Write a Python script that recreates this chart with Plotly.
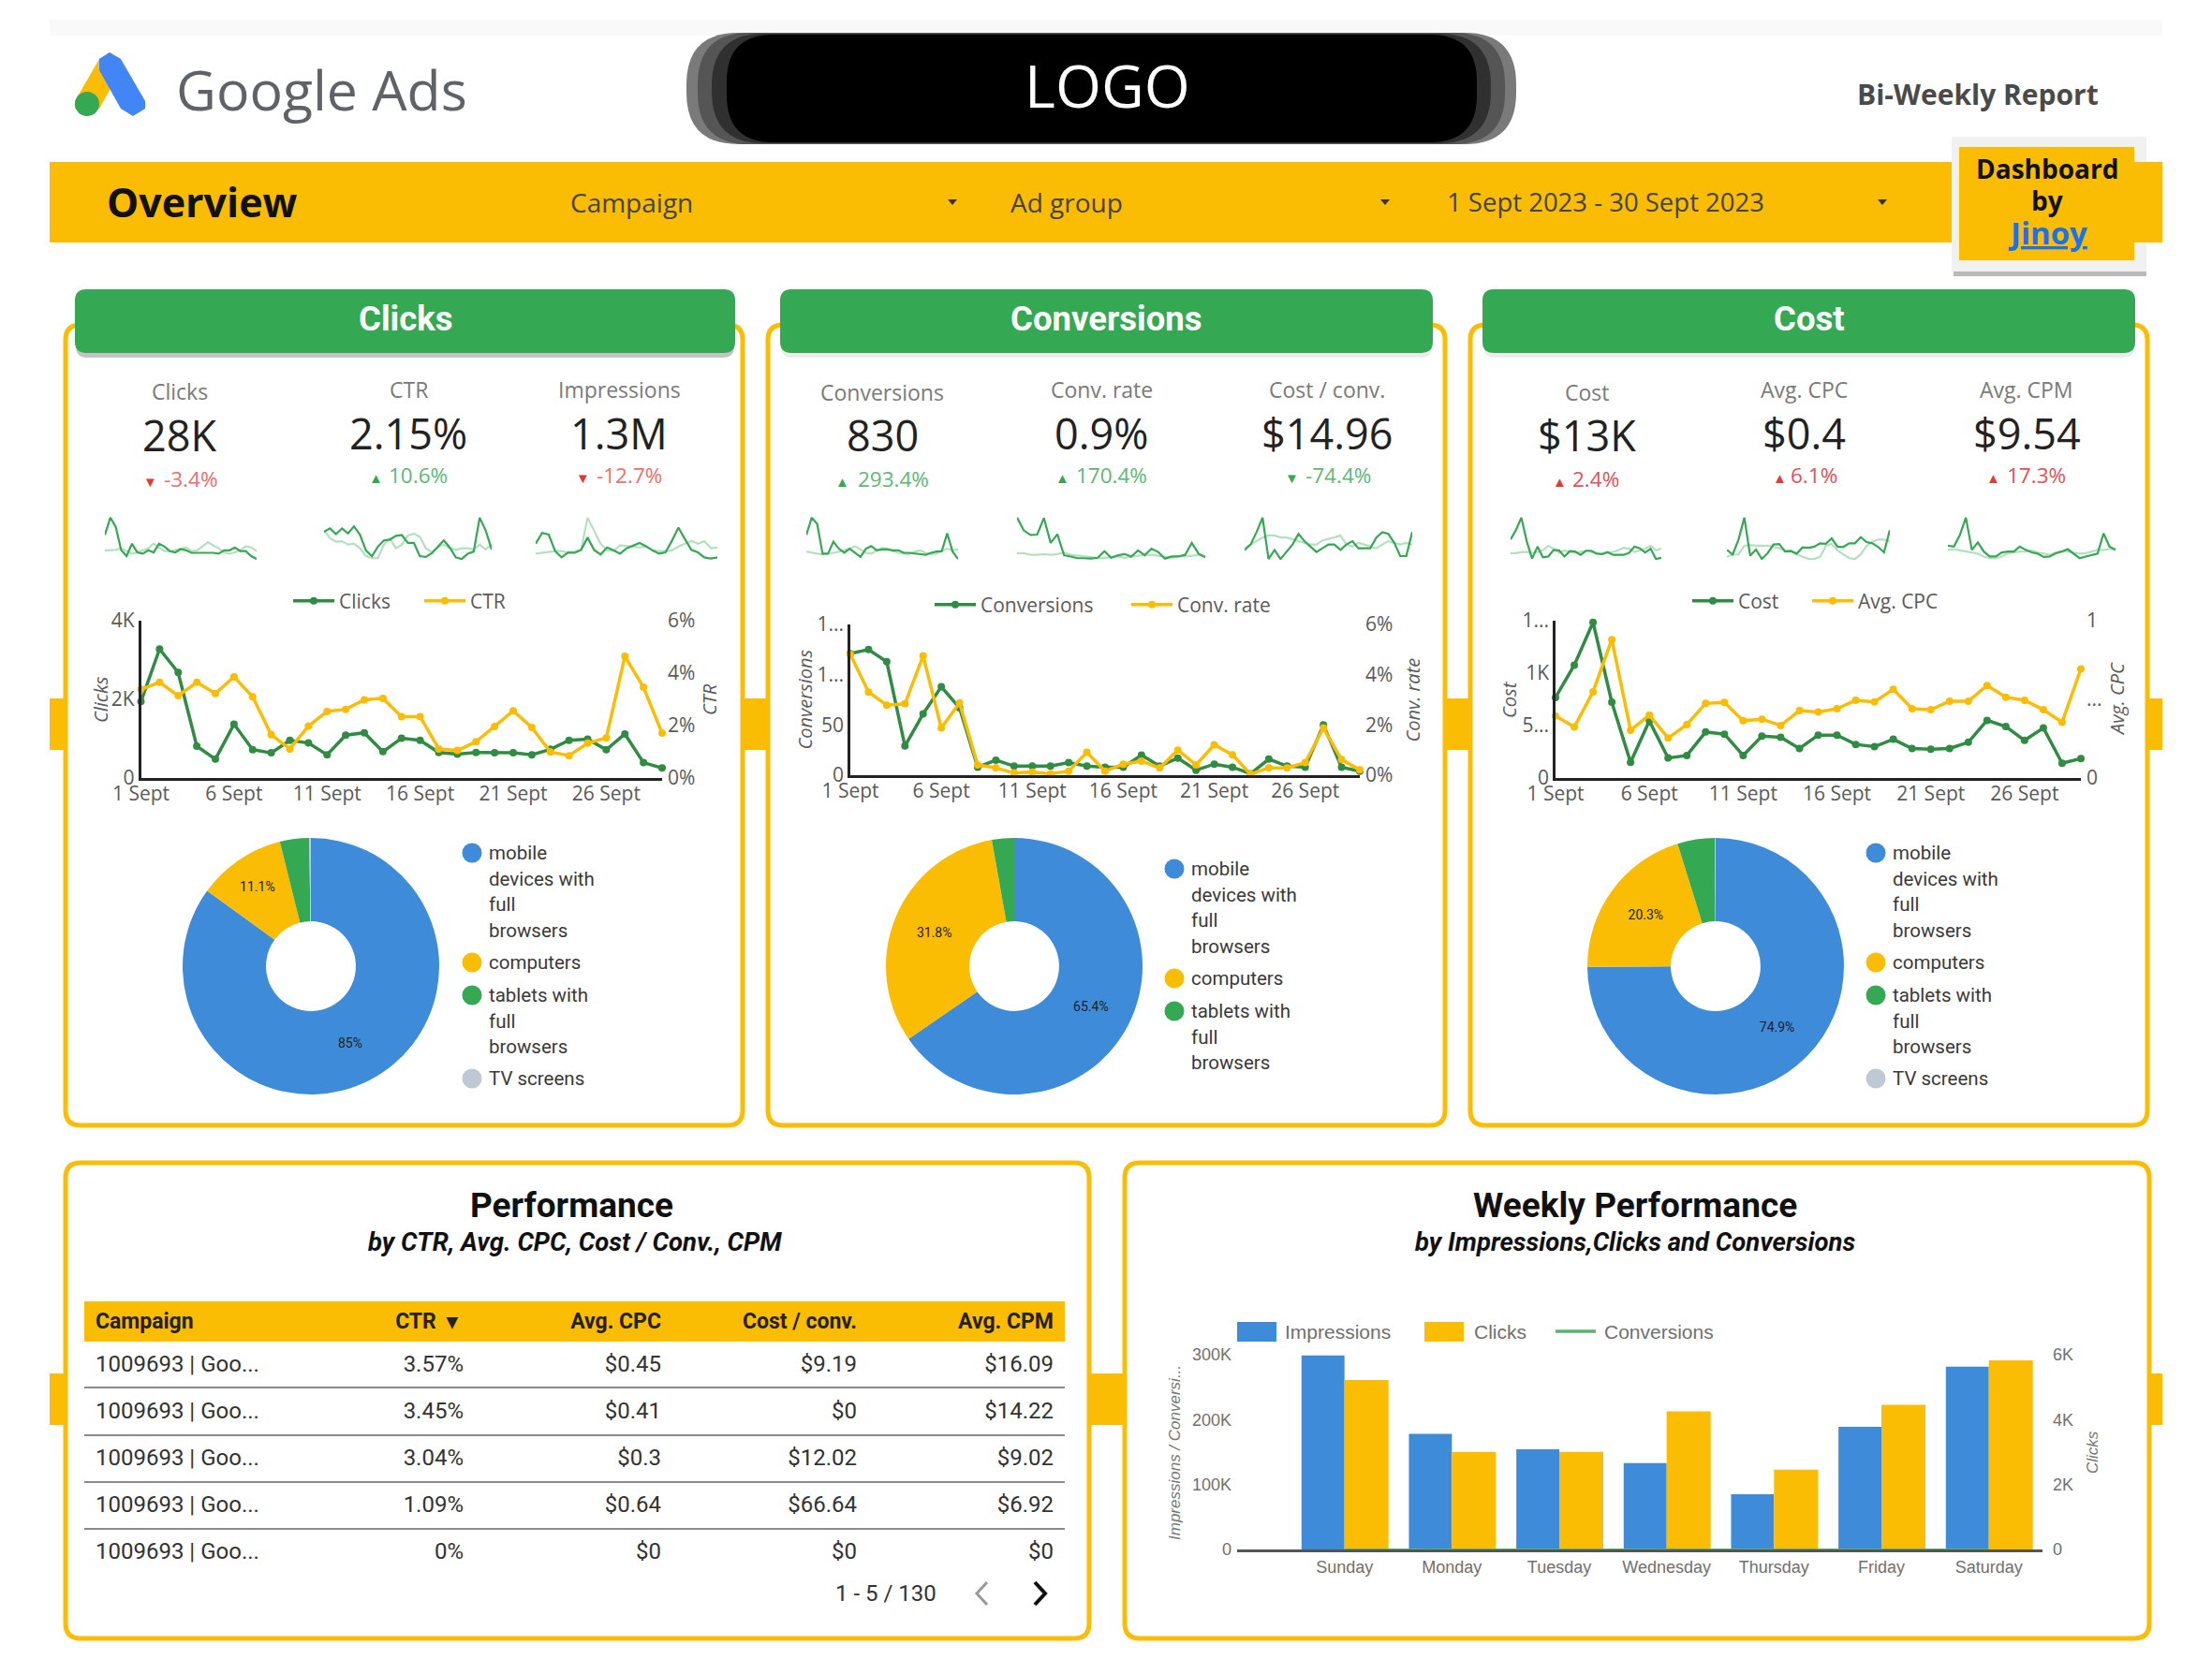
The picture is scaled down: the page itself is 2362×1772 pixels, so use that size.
import plotly.graph_objects as go

W = 2362
H = 1772

YELLOW = "#fbbc04"
GREEN = "#34a853"
DARK_GREEN = "#2f8c42"
LIGHT_GREEN = "#b4e0c0"
BLUE = "#3d8bd9"
TV_GREY = "#bfc9d6"
SANS = "Open Sans"
ROBOTO = "Roboto"
ARIAL = "Liberation Sans"

days = [f"{d} Sept" for d in range(1, 30)]
day_ticks = ["1 Sept", "6 Sept", "11 Sept", "16 Sept", "21 Sept", "26 Sept"]

clicks = [1944, 3280, 2685, 810, 480, 1370, 720, 640, 956, 890, 590, 1090, 1150, 670, 1010,
          960, 650, 610, 650, 640, 640, 590, 730, 960, 990, 720, 1120, 390, 255]
ctr = [3.38, 3.65, 3.14, 3.65, 3.22, 3.86, 3.10, 1.65, 1.11, 1.98, 2.54, 2.62, 2.98, 3.04, 2.34,
       2.34, 1.11, 1.05, 1.38, 1.96, 2.56, 1.93, 0.99, 0.85, 1.33, 1.53, 4.64, 3.46, 1.71]
conversions = [121, 125, 113, 29, 61, 88, 67, 8, 15, 9, 9, 9, 12.5, 9, 8,
               8, 20, 9, 17, 5, 11, 8, 1.5, 16, 9, 8, 50, 8, 4]
conv_rate = [4.81, 3.31, 2.79, 2.84, 4.75, 1.88, 2.88, 0.41, 0.29, 0.09, 0.12, 0.06, 0.16, 0.91, 0.16,
             0.44, 0.56, 0.29, 1.0, 0.41, 1.21, 0.81, 0.04, 0.29, 0.29, 0.5, 1.88, 0.62, 0.21]
cost = [768, 1076, 1485, 723, 149, 544, 191, 215, 439, 418, 215, 400, 388, 281, 409,
        409, 320, 299, 370, 281, 275, 281, 341, 550, 490, 359, 478, 140, 185]
avg_cpc = [0.394, 0.324, 0.548, 0.88, 0.304, 0.40, 0.254, 0.34, 0.474, 0.48, 0.364, 0.374, 0.334, 0.428, 0.42,
           0.44, 0.494, 0.484, 0.564, 0.44, 0.434, 0.488, 0.488, 0.588, 0.514, 0.494, 0.434, 0.354, 0.694]

# sparklines, read as height inside each little plot (0 bottom, 100 top)
spark_clicks = [58, 100, 78, 22, 7, 37, 16, 13, 21, 16, 37, 30, 19, 16, 24, 21, 15, 15, 15, 15, 15, 13, 21, 21, 28, 19, 19, 7, 0]
spark_clicks_prev = [21, 21, 22, 26, 19, 13, 16, 21, 26, 37, 28, 19, 19, 22, 26, 28, 19, 21, 30, 41, 33, 26, 16, 13, 16, 21, 31, 28, 19]
spark_ctr = [66, 74, 60, 74, 62, 79, 59, 21, 7, 30, 45, 47, 56, 58, 39, 39, 7, 5, 14, 29, 45, 28, 4, 0, 13, 18, 100, 69, 23]
spark_ctr_prev = [70, 50, 42, 43, 35, 37, 26, 7, 2, 2, 35, 50, 26, 35, 57, 61, 54, 26, 17, 28, 35, 26, 22, 26, 26, 23, 35, 23, 35]
spark_impr = [37, 63, 59, 19, 4, 16, 15, 22, 52, 22, 11, 28, 21, 13, 26, 33, 39, 31, 21, 13, 16, 44, 76, 48, 22, 16, 4, 1, 4]
spark_impr_prev = [13, 15, 16, 19, 19, 15, 19, 22, 100, 67, 37, 21, 19, 33, 31, 30, 28, 30, 21, 19, 19, 21, 30, 37, 44, 37, 43, 26, 28]
spark_conv = [58, 100, 85, 13, 13, 42, 25, 15, 25, 15, 5, 25, 31, 21, 23, 23, 21, 21, 15, 15, 13, 12, 10, 15, 18, 19, 62, 18, 0]
spark_conv_prev = [18, 15, 13, 12, 13, 15, 18, 21, 25, 31, 23, 15, 13, 21, 27, 25, 19, 15, 13, 12, 18, 21, 15, 12, 13, 19, 25, 21, 23]
spark_rate = [100, 69, 58, 59, 99, 39, 60, 9, 6, 2, 2, 1, 3, 19, 3, 9, 12, 6, 21, 9, 25, 17, 1, 6, 6, 10, 39, 13, 4]
spark_rate_prev = [14, 14, 10, 10, 12, 10, 12, 16, 10, 8, 6, 5, 3, 3, 4, 6, 3, 6, 8, 10, 10, 8, 6, 3, 8, 6, 8, 10, 6]
spark_cpconv = [22, 35, 65, 100, 0, 22, 0, 17, 35, 61, 43, 30, 17, 26, 35, 35, 22, 35, 43, 26, 26, 26, 52, 65, 61, 39, 7, 7, 65]
spark_cpconv_prev = [26, 35, 43, 52, 57, 57, 52, 52, 48, 43, 39, 35, 35, 45, 48, 52, 57, 35, 30, 39, 35, 30, 26, 35, 43, 39, 35, 39, 35]
spark_cost = [47, 70, 100, 43, 1, 30, 4, 6, 22, 21, 6, 19, 18, 10, 20, 20, 13, 12, 17, 10, 10, 10, 15, 30, 26, 16, 25, 0, 3]
spark_cost_prev = [14, 14, 17, 17, 15, 17, 21, 32, 25, 15, 21, 17, 15, 17, 20, 17, 14, 12, 15, 17, 21, 27, 25, 17, 21, 25, 32, 21, 25]
spark_cpc = [22, 11, 47, 100, 8, 23, 0, 14, 35, 36, 18, 19, 13, 28, 27, 30, 38, 37, 50, 30, 29, 38, 38, 53, 41, 38, 29, 16, 70]
spark_cpc_prev = [5, 11, 11, 32, 34, 32, 32, 32, 29, 26, 21, 21, 11, 5, 0, 0, 5, 32, 37, 21, 11, 2, 0, 11, 32, 42, 47, 47, 42]
spark_cpm = [32, 30, 58, 100, 22, 40, 18, 6, 6, 16, 18, 18, 30, 22, 16, 13, 5, 6, 14, 18, 24, 13, 2, 6, 10, 13, 62, 30, 22]
spark_cpm_prev = [22, 24, 21, 18, 16, 13, 6, 2, 2, 6, 14, 16, 18, 18, 21, 16, 13, 10, 16, 18, 18, 16, 13, 14, 18, 22, 22, 24, 24]

device_colors = [BLUE, YELLOW, GREEN, TV_GREY]
clicks_devices = [85, 11.1, 3.7, 0.2]
clicks_device_text = ["85%", "11.1%", "", ""]
conv_devices = [65.4, 31.8, 2.8]
conv_device_text = ["65.4%", "31.8%", ""]
cost_devices = [74.9, 20.3, 4.7, 0.1]
cost_device_text = ["74.9%", "20.3%", "", ""]

table_header = ["Campaign", "CTR  ▾&nbsp;", "Avg. CPC", "Cost / conv.", "Avg. CPM"]
table_campaign = ["1009693 | Goo..."] * 5
table_ctr = ["3.57%", "3.45%", "3.04%", "1.09%", "0%"]
table_cpc = ["$0.45", "$0.41", "$0.3", "$0.64", "$0"]
table_cpconv = ["$9.19", "$0", "$12.02", "$66.64", "$0"]
table_cpm = ["$16.09", "$14.22", "$9.02", "$6.92", "$0"]

weekdays = ["Sunday", "Monday", "Tuesday", "Wednesday", "Thursday", "Friday", "Saturday"]
week_impressions = [299000, 178000, 154500, 133000, 85000, 189000, 281500]
week_clicks = [5220, 3010, 3010, 4255, 2460, 4455, 5830]
week_conversions = [120, 140, 130, 110, 90, 120, 120]


def X(px):
    return px / W


def Y(py):
    return 1 - py / H


shapes = []
annotations = []
layout_axes = {}


def rect(x0, y0, x1, y1, fill, line=None, width=0):
    shapes.append(dict(type="rect", xref="paper", yref="paper", x0=X(x0), x1=X(x1), y0=Y(y0), y1=Y(y1),
                       fillcolor=fill, line=dict(color=line or fill, width=width), layer="below"))


def rounded(x0, y0, x1, y1, r, fill=None, line=None, width=0, layer="below"):
    p = (f"M {X(x0 + r)} {Y(y0)} L {X(x1 - r)} {Y(y0)} Q {X(x1)} {Y(y0)} {X(x1)} {Y(y0 + r)} "
         f"L {X(x1)} {Y(y1 - r)} Q {X(x1)} {Y(y1)} {X(x1 - r)} {Y(y1)} "
         f"L {X(x0 + r)} {Y(y1)} Q {X(x0)} {Y(y1)} {X(x0)} {Y(y1 - r)} "
         f"L {X(x0)} {Y(y0 + r)} Q {X(x0)} {Y(y0)} {X(x0 + r)} {Y(y0)} Z")
    shapes.append(dict(type="path", xref="paper", yref="paper", path=p, fillcolor=fill or "rgba(0,0,0,0)",
                       line=dict(color=line or "rgba(0,0,0,0)", width=width), layer=layer))


def poly(points, fill=None, line=None, width=0, close=True, layer="below"):
    p = "M " + " L ".join(f"{X(a)} {Y(b)}" for a, b in points) + (" Z" if close else "")
    shapes.append(dict(type="path", xref="paper", yref="paper", path=p, fillcolor=fill or "rgba(0,0,0,0)",
                       line=dict(color=line or "rgba(0,0,0,0)", width=width), layer=layer))


def circle(cx, cy, r, fill, layer="below"):
    shapes.append(dict(type="circle", xref="paper", yref="paper", x0=X(cx - r), x1=X(cx + r),
                       y0=Y(cy + r), y1=Y(cy - r), fillcolor=fill, line=dict(width=0), layer=layer))


def label(text, x, y, size, color="#333333", font=SANS, anchor="center", angle=0):
    annotations.append(dict(text=text, xref="paper", yref="paper", x=X(x), y=Y(y), showarrow=False,
                            xanchor=anchor, yanchor="middle", textangle=angle,
                            font=dict(family=font, size=size, color=color)))


# header
rect(53, 21, 2309, 38, "#f9f9f9")
rect(53, 173, 2309, 259, YELLOW)
poly([(117, 56), (106, 63), (80, 108), (80, 116), (93, 124), (106, 116), (129, 75)], fill=YELLOW)
circle(93, 111, 13, GREEN)
poly([(106, 75), (129, 116), (142, 124), (155, 116), (155, 108), (129, 63), (117, 56), (106, 63)], fill="#4285f4")
label("Google Ads", 186, 95, 59, "#5f6368", anchor="left")

rounded(733, 35, 1619, 154, 55, fill="#7a7a7a")
rounded(745, 35, 1607, 154, 55, fill="#555555")
rounded(760, 36, 1592, 153, 55, fill="#303030")
rounded(776, 37, 1577, 152, 50, fill="#000000")
label("LOGO", 1182, 91, 63, "#ffffff")
label("<b>Bi-Weekly Report</b>", 2112, 100, 30, "#4a4a4a")

label("<b>Overview</b>", 112, 216, 43, "#111111", anchor="left")
label("Campaign", 607, 216, 28, "#444444", anchor="left")
label("Ad group", 1077, 216, 28, "#444444", anchor="left")
label("1 Sept 2023 - 30 Sept 2023", 1543, 216, 27.5, "#444444", anchor="left")
for ax in [1017, 1479, 2010]:
    poly([(ax - 5, 213), (ax + 5, 213), (ax, 219)], fill="#333333")

rect(2086, 148, 2292, 295, "#b9b9b9")
rect(2084, 146, 2292, 290, "#f1f1f1")
rect(2279, 173, 2309, 259, YELLOW)
rect(2092, 157, 2279, 278, YELLOW)
label("<b>Dashboard</b>", 2186, 180, 28, "#111111")
label("<b>by</b>", 2186, 214, 28, "#111111")
label("<b><u>Jinoy</u></b>", 2186, 249, 33, "#1a73e8")

# yellow frames and the tabs joining them
for y0, y1, spans in [(746, 801, [(53, 68), (795, 818), (1545, 1568), (2295, 2309)]),
                      (1467, 1522, [(53, 68), (1163, 1199), (2295, 2309)])]:
    for a, b in spans:
        rect(a, y0, b, y1, YELLOW)
panel_spans = [(68, 795), (818, 1545), (1568, 2295)]
for a, b in panel_spans:
    rounded(a + 2, 347, b - 2, 1202, 16, fill="#ffffff", line=YELLOW, width=5)
rounded(70, 1242, 1163, 1750, 16, fill="#ffffff", line=YELLOW, width=5)
rounded(1201, 1242, 2295, 1750, 16, fill="#ffffff", line=YELLOW, width=5)

header_boxes = [(80, 785, "Clicks"), (833, 1530, "Conversions"), (1583, 2280, "Cost")]
for a, b, name in header_boxes:
    rounded(a + 1, 313, b - 1, 382, 12, fill="#c4c4c4" if name == "Clicks" else "#ececec")
    rounded(a, 309, b, 377, 12, fill=GREEN)
    label(f"<b>{name}</b>", (a + b) / 2, 341, 36.5, "#ffffff", font=ROBOTO)

# scorecards: name, x, name y, value, delta text, delta x, arrow, arrow x, y, colours
RED_TEXT = "#f26d6d"
RED_MARK = "#e53935"
GREEN_TEXT = "#5cb877"
COST_RED = "#e2505a"
cards = [
    ("Clicks", 192, 418, "28K", "-3.4%", 203, "▼", 160, 512, RED_TEXT, RED_MARK),
    ("CTR", 436, 416, "2.15%", "10.6%", 446, "▲", 401, 508, GREEN_TEXT, GREEN),
    ("Impressions", 661, 416, "1.3M", "-12.7%", 672, "▼", 622, 508, RED_TEXT, RED_MARK),
    ("Conversions", 942, 419, "830", "293.4%", 954, "▲", 899, 512, GREEN_TEXT, GREEN),
    ("Conv. rate", 1176, 416, "0.9%", "170.4%", 1187, "▲", 1134, 508, GREEN_TEXT, GREEN),
    ("Cost / conv.", 1417, 416, "$14.96", "-74.4%", 1429, "▼", 1379, 508, GREEN_TEXT, GREEN),
    ("Cost", 1694, 419, "$13K", "2.4%", 1704, "▲", 1665, 512, COST_RED, RED_MARK),
    ("Avg. CPC", 1926, 416, "$0.4", "6.1%", 1937, "▲", 1900, 508, COST_RED, RED_MARK),
    ("Avg. CPM", 2164, 416, "$9.54", "17.3%", 2174, "▲", 2128, 508, COST_RED, RED_MARK),
]
for name, x, y, value, delta, dx, arrow, ax, dy, text_col, mark_col in cards:
    label(name, x, y, 23, "#7a7a7a")
    label(value, x, y + 46, 45, "#222222")
    label(delta, dx, dy, 22.5, text_col)
    label(arrow, ax, dy + 2, 15, mark_col)

fig = go.Figure()
axis_no = 0


def next_axis():
    global axis_no
    axis_no += 1
    return axis_no


def axis_id(prefix, n):
    return prefix if n == 1 else f"{prefix}{n}"


# sparklines
sparks = [
    (112, 274, spark_clicks, spark_clicks_prev), (346, 525, spark_ctr, spark_ctr_prev),
    (572, 766, spark_impr, spark_impr_prev), (861, 1023, spark_conv, spark_conv_prev),
    (1086, 1287, spark_rate, spark_rate_prev), (1329, 1508, spark_cpconv, spark_cpconv_prev),
    (1613, 1774, spark_cost, spark_cost_prev), (1844, 2018, spark_cpc, spark_cpc_prev),
    (2080, 2259, spark_cpm, spark_cpm_prev),
]
for x0, x1, current, previous in sparks:
    n = next_axis()
    for series, col in [(previous, LIGHT_GREEN), (current, GREEN)]:
        fig.add_trace(go.Scatter(x=days, y=series, mode="lines", line=dict(color=col, width=2.2),
                                 xaxis=axis_id("x", n), yaxis=axis_id("y", n), showlegend=False,
                                 hoverinfo="skip"))
    layout_axes[f"xaxis{n}"] = dict(domain=[X(x0), X(x1)], visible=False, type="category", range=[0, 28],
                                    anchor=axis_id("y", n))
    layout_axes[f"yaxis{n}"] = dict(domain=[Y(598), Y(552)], visible=False, range=[-2, 102],
                                    anchor=axis_id("x", n))

# daily combo charts
combos = [
    dict(x0=150.5, x1=707, top=663, bottom=831, left=clicks, right=ctr, lname="Clicks", rname="CTR",
         lmax=4000, lticks=[0, 2000, 4000], ltext=["0", "2K", "4K"],
         rmax=6, rticks=[0, 2, 4, 6], rtext=["0%", "2%", "4%", "6%"],
         ltitle_x=107, rtitle_x=757, legend_x=308, legend_y=642, entry=81),
    dict(x0=908, x1=1452, top=667, bottom=828, left=conversions, right=conv_rate, lname="Conversions", rname="Conv. rate",
         lmax=150, lticks=[0, 50, 100, 150], ltext=["0", "50", "1...", "1..."],
         rmax=6, rticks=[0, 2, 4, 6], rtext=["0%", "2%", "4%", "6%"],
         ltitle_x=859, rtitle_x=1508, legend_x=993, legend_y=646, entry=151),
    dict(x0=1661, x1=2222, top=663, bottom=831, left=cost, right=avg_cpc, lname="Cost", rname="Avg. CPC",
         lmax=1500, lticks=[0, 500, 1000, 1500], ltext=["0", "5...", "1K", "1..."],
         rmax=1, rticks=[0, 0.5, 1], rtext=["0", "...", "1"],
         ltitle_x=1611, rtitle_x=2260, legend_x=1802, legend_y=642, entry=69),
]
for i, c in enumerate(combos):
    n = next_axis()
    m = next_axis()
    legend_name = f"legend{i + 2}"
    fig.add_trace(go.Scatter(x=days, y=c["left"], name=c["lname"], mode="lines+markers", legendwidth=c["entry"],
                             line=dict(color=DARK_GREEN, width=3.5), marker=dict(size=8, color=DARK_GREEN),
                             xaxis=axis_id("x", n), yaxis=axis_id("y", n), legend=legend_name, cliponaxis=False))
    fig.add_trace(go.Scatter(x=days, y=c["right"], name=c["rname"], mode="lines+markers",
                             line=dict(color=YELLOW, width=3.5), marker=dict(size=8, color=YELLOW),
                             xaxis=axis_id("x", n), yaxis=axis_id("y", m), legend=legend_name, cliponaxis=False))
    tick_font = dict(family=SANS, size=21, color="#5a5a5a")
    layout_axes[f"xaxis{n}"] = dict(domain=[X(c["x0"]), X(c["x1"])], type="category", range=[0, 28],
                                    tickmode="array", tickvals=day_ticks, ticktext=day_ticks, ticks="",
                                    showgrid=False, zeroline=False, showline=True, linecolor="#222222", linewidth=2.5,
                                    tickfont=tick_font, anchor=axis_id("y", n), tickangle=0, ticklabelstandoff=-4)
    layout_axes[f"yaxis{n}"] = dict(domain=[Y(c["bottom"]), Y(c["top"])], range=[0, c["lmax"]],
                                    tickmode="array", tickvals=c["lticks"], ticktext=c["ltext"], ticks="",
                                    showgrid=False, zeroline=False, showline=True, linecolor="#222222", linewidth=2.5,
                                    tickfont=tick_font, anchor=axis_id("x", n))
    layout_axes[f"yaxis{m}"] = dict(domain=[Y(c["bottom"]), Y(c["top"])], range=[0, c["rmax"]],
                                    tickmode="array", tickvals=c["rticks"], ticktext=c["rtext"], ticks="",
                                    showgrid=False, zeroline=False, showline=False, side="right",
                                    overlaying=axis_id("y", n), tickfont=tick_font, anchor=axis_id("x", n),
                                    ticklabelstandoff=5)
    mid = (c["top"] + c["bottom"]) / 2
    label(f"<i>{c['lname']}</i>", c["ltitle_x"], mid, 20, "#5a5a5a", angle=-90)
    label(f"<i>{c['rname']}</i>", c["rtitle_x"], mid, 20, "#5a5a5a", angle=-90)
    layout_axes[legend_name] = dict(x=X(c["legend_x"]), y=Y(c["legend_y"]), xanchor="left", yanchor="middle",
                                    orientation="h", itemwidth=44, bgcolor="rgba(0,0,0,0)",
                                    font=dict(family=SANS, size=21, color="#5a5a5a"))

# device donuts
donuts = [
    (332, clicks_devices, clicks_device_text),
    (1083, conv_devices, conv_device_text),
    (1832, cost_devices, cost_device_text),
]
device_names = ["mobile", "computers", "tablets with full browsers", "TV screens"]
for cx, values, text in donuts:
    fig.add_trace(go.Pie(labels=device_names[:len(values)], values=values, hole=0.35, sort=False,
                         direction="clockwise", rotation=0, text=text, textinfo="text", textposition="inside",
                         insidetextorientation="horizontal", hoverinfo="label+percent",
                         marker=dict(colors=device_colors[:len(values)], line=dict(width=0)),
                         textfont=dict(family=ROBOTO, size=14, color="#222222"),
                         domain=dict(x=[X(cx - 137), X(cx + 137)], y=[Y(1169), Y(895)]), showlegend=False))

legend_rows = [
    (BLUE, ["mobile", "devices with", "full", "browsers"], 0),
    (YELLOW, ["computers"], 117),
    (GREEN, ["tablets with", "full", "browsers"], 152),
    (TV_GREY, ["TV screens"], 241),
]
for cx0, y0, count in [(504, 911, 4), (1254, 928, 3), (2003, 911, 4)]:
    for col, lines, dy in legend_rows[:count]:
        circle(cx0, y0 + dy, 10.5, col)
        for k, line in enumerate(lines):
            label(line, cx0 + 16, y0 + dy + k * 27.7, 20.5, "#3a3a3a", font=ROBOTO, anchor="left")

# performance table
label("<b>Performance</b>", 610, 1287, 37, "#111111", font=ROBOTO)
label("<b><i>by CTR, Avg. CPC, Cost / Conv., CPM</i></b>", 614, 1326, 27.5, "#111111", font=ROBOTO)
rect(90, 1390, 1137, 1433, YELLOW)
fig.add_trace(go.Table(
    domain=dict(x=[X(94), X(1133)], y=[Y(1690), Y(1390)]),
    columnwidth=[206, 203, 211, 209, 210],
    header=dict(values=[f"<b>{h}</b>" for h in table_header], height=49, fill_color="rgba(0,0,0,0)",
                align=["left", "right", "right", "right", "right"], line=dict(width=0, color="rgba(0,0,0,0)"),
                font=dict(family=ROBOTO, size=23, color="#222222")),
    cells=dict(values=[table_campaign, table_ctr, table_cpc, table_cpconv, table_cpm], height=50,
               fill_color="rgba(0,0,0,0)", align=["left", "right", "right", "right", "right"],
               line=dict(width=0, color="rgba(0,0,0,0)"), font=dict(family=ROBOTO, size=24, color="#333333")),
))
for row_y in [1482, 1533, 1583, 1633]:
    shapes.append(dict(type="line", xref="paper", yref="paper", x0=X(90), x1=X(1137), y0=Y(row_y), y1=Y(row_y),
                       line=dict(color="#8a8a8a", width=2), layer="above"))
label("1 - 5 / 130", 946, 1702, 24, "#333333", font=ROBOTO)
poly([(1054, 1690), (1043, 1702), (1054, 1714)], line="#9a9a9a", width=3, close=False)
poly([(1105, 1690), (1116, 1702), (1105, 1714)], line="#111111", width=4, close=False)

# weekly bars
label("<b>Weekly Performance</b>", 1746, 1287, 37, "#111111", font=ROBOTO)
label("<b><i>by Impressions,Clicks and Conversions</i></b>", 1746, 1326, 27.5, "#111111", font=ROBOTO)
n = next_axis()
m = next_axis()
k = next_axis()
fig.add_trace(go.Bar(x=weekdays, y=week_impressions, name="Impressions", marker=dict(color=BLUE, line=dict(width=0)),
                     width=0.4, offset=-0.4, xaxis=axis_id("x", n), yaxis=axis_id("y", n), showlegend=False))
fig.add_trace(go.Bar(x=weekdays, y=week_clicks, name="Clicks", marker=dict(color=YELLOW, line=dict(width=0)),
                     width=0.41, offset=0, xaxis=axis_id("x", n), yaxis=axis_id("y", m), showlegend=False))
fig.add_trace(go.Scatter(x=weekdays, y=week_conversions, name="Conversions", mode="lines",
                         line=dict(color="#57b36f", width=4.5), xaxis=axis_id("x", n), yaxis=axis_id("y", k),
                         showlegend=False, cliponaxis=False))
bar_tick = dict(family=ARIAL, size=18, color="#707070")
layout_axes[f"xaxis{n}"] = dict(domain=[X(1321), X(2181)], type="category", categoryarray=weekdays, range=[-1, 6.5],
                                showgrid=False, zeroline=False, showline=True, linecolor="#555555", linewidth=3,
                                ticks="", tickfont=bar_tick, anchor=axis_id("y", n), tickangle=0, layer="below traces")
layout_axes[f"yaxis{n}"] = dict(domain=[Y(1655), Y(1447)], range=[0, 300000], tickmode="array",
                                tickvals=[0, 100000, 200000, 300000], ticktext=["0", "100K", "200K", "300K"],
                                showgrid=False, zeroline=False, ticks="", tickfont=bar_tick, anchor=axis_id("x", n),
                                ticklabelstandoff=5)
layout_axes[f"yaxis{m}"] = dict(domain=[Y(1655), Y(1447)], range=[0, 6000], tickmode="array",
                                tickvals=[0, 2000, 4000, 6000], ticktext=["0", "2K", "4K", "6K"],
                                showgrid=False, zeroline=False, ticks="", side="right",
                                overlaying=axis_id("y", n), tickfont=bar_tick, anchor=axis_id("x", n),
                                ticklabelstandoff=10)
layout_axes[f"yaxis{k}"] = dict(domain=[Y(1655), Y(1447)], range=[2000, 302000], visible=False,
                                overlaying=axis_id("y", n), anchor=axis_id("x", n))
label("<i>Impressions / Conversi...</i>", 1254, 1552, 17, "#777777", font=ARIAL, angle=-90)
label("<i>Clicks</i>", 2234, 1551, 17, "#777777", font=ARIAL, angle=-90)
rect(1321, 1412, 1363, 1433, BLUE)
label("Impressions", 1370, 1422, 21, "#707070", font=ARIAL, anchor="left")
rect(1521, 1412, 1563, 1433, YELLOW)
label("Clicks", 1572, 1422, 21, "#707070", font=ARIAL, anchor="left")
shapes.append(dict(type="line", xref="paper", yref="paper", x0=X(1661), x1=X(1704), y0=Y(1422), y1=Y(1422),
                   line=dict(color="#57b36f", width=3.5), layer="below"))
label("Conversions", 1711, 1422, 21, "#707070", font=ARIAL, anchor="left")

fig.update_layout(
    width=W, height=H, margin=dict(l=0, r=0, t=0, b=0, autoexpand=False), paper_bgcolor="#ffffff",
    plot_bgcolor="rgba(0,0,0,0)", shapes=shapes, annotations=annotations, showlegend=True, barmode="overlay",
    font=dict(family=SANS), **layout_axes,
)
fig.write_html("out.html", config=dict(displayModeBar=False), post_script="document.body.style.margin='0';")
